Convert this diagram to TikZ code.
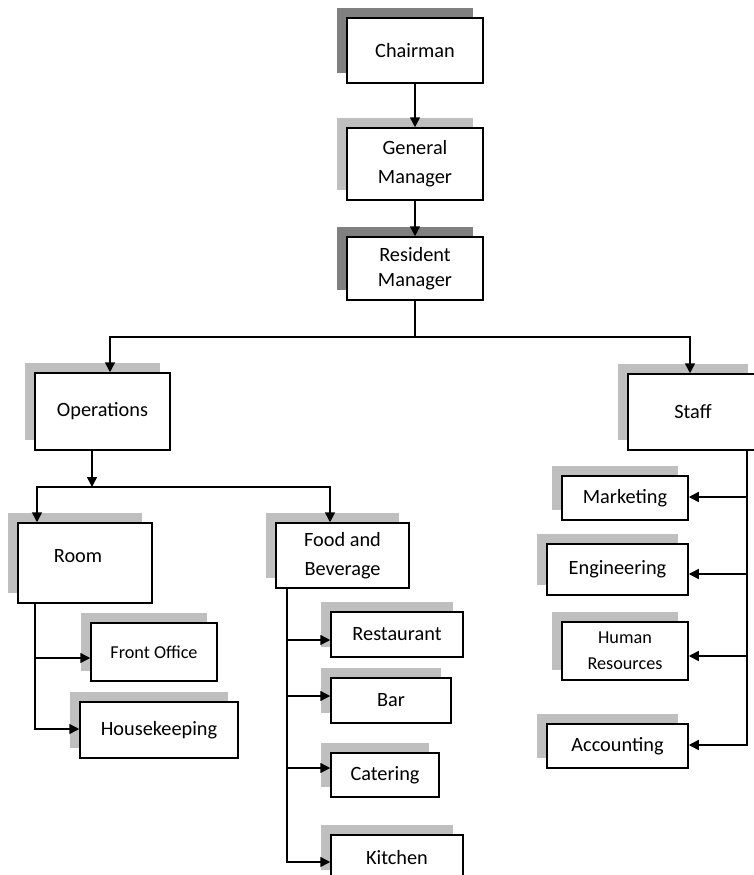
\documentclass[tikz,border=0pt]{standalone}
\usepackage{fontspec}
\setmainfont{Carlito}
\usetikzlibrary{arrows.meta,shadows}
\definecolor{darkshade}{HTML}{808080}
\definecolor{lightshade}{HTML}{BFBFBF}
\begin{document}
\begin{tikzpicture}[x=1pt,y=-1pt,
                    box/.style={draw=black, fill=white, line width=1.5pt, inner sep=0pt, align=center, font=\fontsize{20.3}{29}\selectfont},
                    darkshadow/.style={general shadow={fill=darkshade, shadow xshift=-10pt, shadow yshift=10pt}},
                    lightshadow/.style={general shadow={fill=lightshade, shadow xshift=-10pt, shadow yshift=10pt}},
                    smalltext/.style={font=\fontsize{18.2}{26}\selectfont},
                    link/.style={line width=1.5pt},
                    arr/.style={line width=1.5pt, -{Triangle[length=10pt,width=10pt]}}]
                    \useasboundingbox (0,0) rectangle (753,875);
                    \node [box, darkshadow, minimum width=136, minimum height=65] (chairman) at (415,50.5) {Chairman};
                    \node [box, lightshadow, minimum width=136, minimum height=72] (genmgr) at (415,164) {General\\Manager};
                    \node [box, darkshadow, minimum width=136, minimum height=63, font=\fontsize{20.3}{25}\selectfont] (resmgr) at (415,268.5) {Resident\\Manager};
                    \node [box, lightshadow, minimum width=135, minimum height=77] (ops) at (102.5,411.5) {Operations};
                    \node [box, lightshadow, minimum width=130, minimum height=76] (staff) at (693,412) {Staff};
                    \node [box, lightshadow, minimum width=134, minimum height=80,
                           label={[xshift=-7pt, yshift=7pt, font=\fontsize{20.3}{29}\selectfont]center:Room}] (room) at (85,563) {};
                    \node [box, lightshadow, minimum width=133, minimum height=65] (food) at (342.5,555.5) {Food and\\Beverage};
                    \node [box, lightshadow, smalltext, minimum width=126, minimum height=58] (front) at (154,652) {Front Office};
                    \node [box, lightshadow, minimum width=158, minimum height=56] (house) at (159,730) {Housekeeping};
                    \node [box, lightshadow, minimum width=132, minimum height=45] (rest) at (397,634.5) {Restaurant};
                    \node [box, lightshadow, minimum width=120, minimum height=45] (bar) at (391,700.5) {Bar};
                    \node [box, lightshadow, minimum width=108, minimum height=44] (cater) at (385,775) {Catering};
                    \node [box, lightshadow, minimum width=132, minimum height=45] (kitchen) at (397,857.5) {Kitchen};
                    \node [box, lightshadow, minimum width=126, minimum height=44] (mkt) at (625,498) {Marketing};
                    \node [box, lightshadow, minimum width=141, minimum height=51] (eng) at (617.5,569.5) {Engineering};
                    \node [box, lightshadow, smalltext, minimum width=126, minimum height=58] (hr) at (625,651) {Human\\Resources};
                    \node [box, lightshadow, minimum width=141, minimum height=44] (acct) at (617.5,746) {Accounting};
                    \draw [arr] (chairman) -- (genmgr);
                    \draw [arr] (genmgr) -- (resmgr);
                    \coordinate (top bus) at (415,337);
                    \draw [link] (resmgr) -- (top bus);
                    \draw [arr] (top bus) -| ([xshift=7.5pt]ops.north);
                    \draw [arr] (top bus) -| ([xshift=-3pt]staff.north);
                    \coordinate (ops bus) at (92,487);
                    \draw [arr] ([xshift=-10.5pt]ops.south) -- (ops bus);
                    \draw [arr] (ops bus) -| ([xshift=-48pt]room.north);
                    \draw [arr] (ops bus) -| ([xshift=-12.5pt]food.north);
                    \draw [arr] ([xshift=-50pt]room.south) |- ([yshift=-6pt]front.west);
                    \draw [arr] ([xshift=-50pt]room.south) |- ([yshift=1pt]house.west);
                    \draw [arr] ([xshift=-55.5pt]food.south) |- ([yshift=-5.5pt]rest.west);
                    \draw [arr] ([xshift=-55.5pt]food.south) |- ([yshift=4.5pt]bar.west);
                    \draw [arr] ([xshift=-55.5pt]food.south) |- ([yshift=7pt]cater.west);
                    \draw [arr] ([xshift=-55.5pt]food.south) |- ([yshift=-4.5pt]kitchen.west);
                    \draw [arr] ([xshift=54pt]staff.south) |- ([yshift=1pt]mkt.east);
                    \draw [arr] ([xshift=54pt]staff.south) |- ([yshift=-4.5pt]eng.east);
                    \draw [arr] ([xshift=54pt]staff.south) |- ([yshift=-5pt]hr.east);
                    \draw [arr] ([xshift=54pt]staff.south) |- ([yshift=1pt]acct.east);
                \end{tikzpicture}
\end{document}
